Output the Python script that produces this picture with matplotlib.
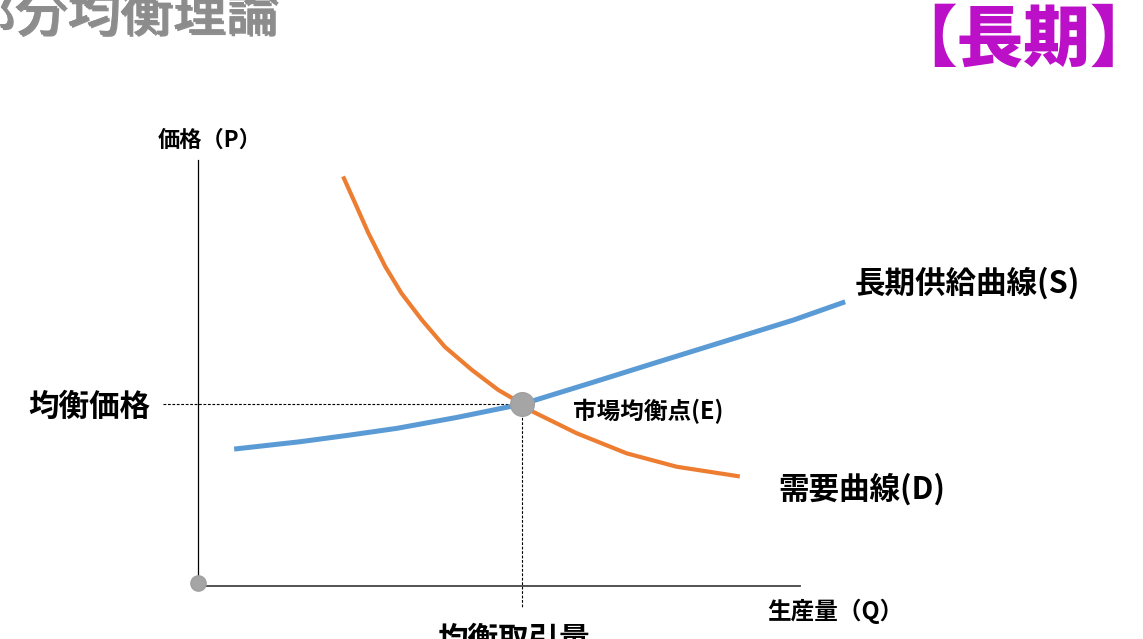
import matplotlib
matplotlib.use('Agg')
import matplotlib.pyplot as plt
import matplotlib.patheffects as pe

plt.rcParams['font.family'] = ['Noto Sans CJK JP', 'DejaVu Sans']

# 長期供給曲線 (S)
supply_q = [0.60, 1.69, 2.52, 3.30, 4.30, 5.39, 6.57, 7.67, 8.78, 9.89, 10.75]
supply_p = [2.25, 2.37, 2.48, 2.59, 2.77, 2.99, 3.35, 3.69, 4.03, 4.37, 4.67]

# 需要曲線 (D)
demand_q = [2.41, 2.61, 2.83, 3.11, 3.38, 3.72, 4.10, 4.55, 4.99, 5.39,
            5.51, 6.29, 7.12, 7.95, 9.00]
demand_p = [6.73, 6.29, 5.80, 5.25, 4.81, 4.37, 3.93, 3.55, 3.22, 2.99,
            2.89, 2.51, 2.18, 1.96, 1.80]

# 市場均衡点 (E)
eq_q = 5.39
eq_p = 2.99

W, H = 1143, 639
fig = plt.figure(figsize=(W / 100, H / 100), dpi=100)

# background layer in pixel coords for the slide texts
bg = fig.add_axes([0, 0, 1, 1])
bg.set_xlim(0, W)
bg.set_ylim(H, 0)
bg.axis('off')

bg.text(278, 15, '部分均衡理論', ha='right', va='center', fontsize=38, fontweight='normal',
        color='#8c8c8c',
        path_effects=[pe.withSimplePatchShadow(offset=(1.5, -1.5), shadow_rgbFace='#606060', alpha=0.7),
                      pe.Normal()])
bg.text(890, 42, '【長期】', ha='left', va='center', fontsize=48, fontweight='heavy', color='#bc10c8')

# main chart
ax = fig.add_axes([198 / W, 53 / H, 662.2 / W, 426 / H])
ax.set_facecolor('none')
ax.set_xlim(0, 11)
ax.set_ylim(0, 7)
ax.set_xticks([])
ax.set_yticks([])
ax.spines['top'].set_visible(False)
ax.spines['right'].set_visible(False)
ax.spines['left'].set_linewidth(0.9)
ax.spines['left'].set_color('black')
ax.spines['bottom'].set_linewidth(1.3)
ax.spines['bottom'].set_color('#444444')
ax.spines['bottom'].set_bounds(0, 10)

ax.plot(supply_q, supply_p, color='#5b9bd5', lw=3.6, solid_capstyle='butt',
        solid_joinstyle='round', clip_on=False, zorder=3)
ax.plot(demand_q, demand_p, color='#ed7d31', lw=3.0, solid_capstyle='butt',
        solid_joinstyle='round', clip_on=False, zorder=3)

ax.plot([-0.58, eq_q], [eq_p, eq_p], color='black', lw=0.8, ls=(0, (2.5, 1.5)), clip_on=False, zorder=2)
ax.plot([eq_q, eq_q], [eq_p, -0.35], color='black', lw=0.8, ls=(0, (2.5, 1.5)), clip_on=False, zorder=2)

ax.plot([eq_q], [eq_p], 'o', color='#a5a5a5', markersize=17, mec='#a0a0a0', clip_on=False, zorder=5)
ax.plot([0], [0.05], 'o', color='#a5a5a5', markersize=11, mec='#a0a0a0', clip_on=False, zorder=5)

bg.text(158, 140, '価格（P）', ha='left', va='center', fontsize=16, fontweight='bold')
bg.text(150, 407, '均衡価格', ha='right', va='center', fontsize=22, fontweight='bold')
bg.text(573, 411, '市場均衡点(E)', ha='left', va='center', fontsize=17, fontweight='bold')
bg.text(855, 283, '長期供給曲線(S)', ha='left', va='center', fontsize=22, fontweight='bold')
bg.text(778, 489, '需要曲線(D)', ha='left', va='center', fontsize=22, fontweight='bold')
bg.text(767, 611, '生産量（Q）', ha='left', va='center', fontsize=17, fontweight='bold')
bg.text(437, 640, '均衡取引量', ha='left', va='center', fontsize=22, fontweight='bold')

fig.savefig('out.png', dpi=100)
